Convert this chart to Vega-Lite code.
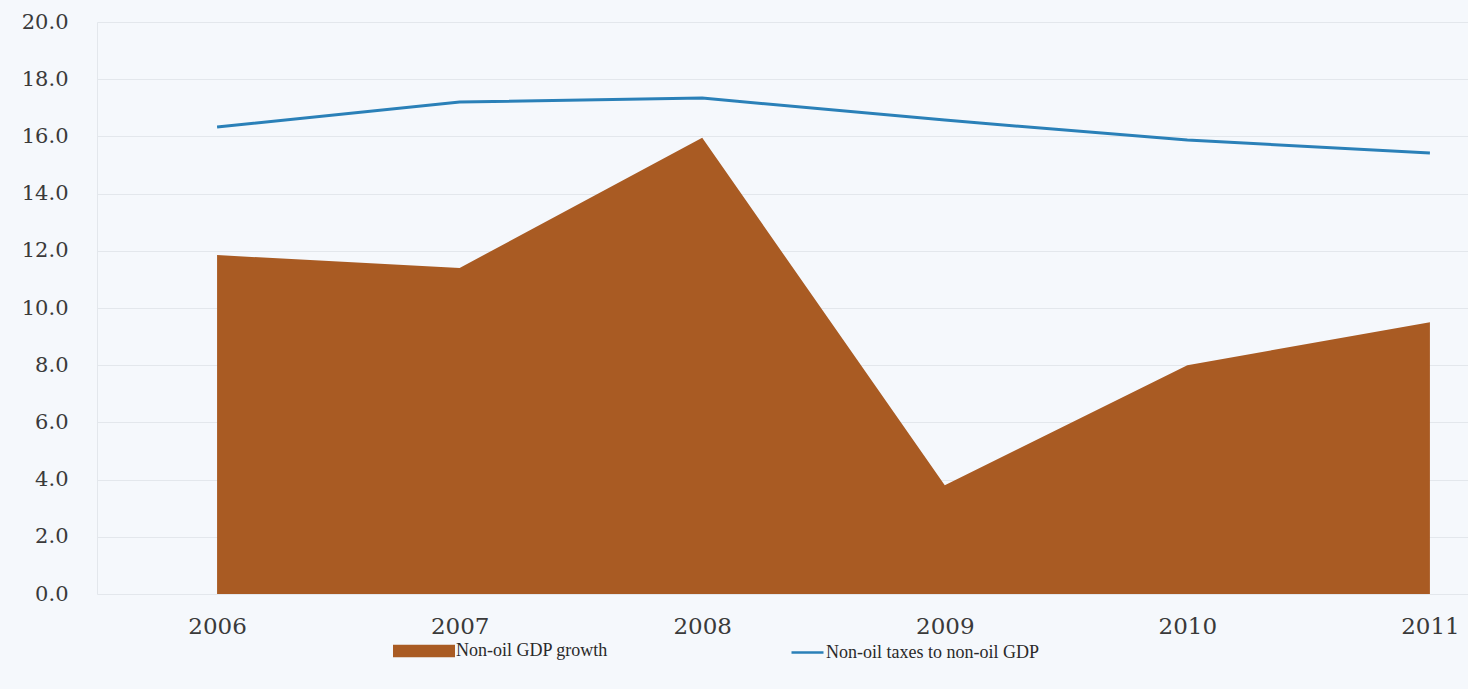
{
  "$schema": "https://vega.github.io/schema/vega-lite/v6.json",
  "autosize": {"type": "none"},
  "width": 1371,
  "height": 572,
  "padding": {"left": 97, "top": 22, "right": 0, "bottom": 95},
  "background": "#f5f8fc",
  "config": {
    "view": {"stroke": null},
    "axis": {"labelFont": "DejaVu Serif", "labelFontSize": 21, "labelColor": "#3a3a3a"},
    "legend": {"labelFont": "Liberation Serif", "labelFontSize": 18, "labelColor": "#2a2a2a", "padding": 0, "labelLimit": 500}
  },
  "data": {
    "values": [
      {"year": 2006, "series": "Non-oil GDP growth", "value": 11.85},
      {"year": 2007, "series": "Non-oil GDP growth", "value": 11.4},
      {"year": 2008, "series": "Non-oil GDP growth", "value": 15.95},
      {"year": 2009, "series": "Non-oil GDP growth", "value": 3.8},
      {"year": 2010, "series": "Non-oil GDP growth", "value": 8.0},
      {"year": 2011, "series": "Non-oil GDP growth", "value": 9.5},
      {"year": 2006, "series": "Non-oil taxes to non-oil GDP", "value": 16.33},
      {"year": 2007, "series": "Non-oil taxes to non-oil GDP", "value": 17.2},
      {"year": 2008, "series": "Non-oil taxes to non-oil GDP", "value": 17.34},
      {"year": 2009, "series": "Non-oil taxes to non-oil GDP", "value": 16.57},
      {"year": 2010, "series": "Non-oil taxes to non-oil GDP", "value": 15.87},
      {"year": 2011, "series": "Non-oil taxes to non-oil GDP", "value": 15.42}
    ]
  },
  "encoding": {
    "x": {
      "field": "year",
      "type": "quantitative",
      "scale": {"domain": [2005.505, 2011.157], "nice": false, "zero": false},
      "axis": {"title": null, "values": [2006, 2007, 2008, 2009, 2010, 2011], "format": "d", "grid": false, "domain": false, "ticks": false, "labelPadding": 21, "labelFlush": false, "labelFontSize": 23}
    },
    "y": {
      "field": "value",
      "type": "quantitative",
      "scale": {"domain": [0, 20], "nice": false},
      "axis": {"title": null, "values": [0, 2, 4, 6, 8, 10, 12, 14, 16, 18, 20], "format": ".1f", "grid": true, "gridColor": "#e3e7ec", "domain": true, "domainColor": "#e3e7ec", "ticks": false, "labelPadding": 29}
    }
  },
  "layer": [
    {
      "transform": [{"filter": "datum.series === 'Non-oil GDP growth'"}],
      "mark": {"type": "area", "opacity": 1},
      "encoding": {
        "fill": {
          "field": "series",
          "type": "nominal",
          "scale": {"domain": ["Non-oil GDP growth"], "range": ["#a95b23"]},
          "legend": {"title": null, "orient": "none", "legendX": 296, "legendY": 598, "symbolType": "M-1,-0.2H1V0.2H-1Z", "symbolSize": 3844, "symbolStrokeWidth": 0, "symbolOpacity": 1, "labelOffset": 1}
        }
      }
    },
    {
      "transform": [{"filter": "datum.series === 'Non-oil taxes to non-oil GDP'"}],
      "mark": {"type": "line", "strokeWidth": 3},
      "encoding": {
        "stroke": {
          "field": "series",
          "type": "nominal",
          "scale": {"domain": ["Non-oil taxes to non-oil GDP"], "range": ["#2a80b8"]},
          "legend": {"title": null, "orient": "none", "legendX": 693, "legendY": 613, "symbolType": "stroke", "symbolSize": 1024, "symbolStrokeWidth": 2.5, "labelOffset": 1}
        }
      }
    }
  ]
}
